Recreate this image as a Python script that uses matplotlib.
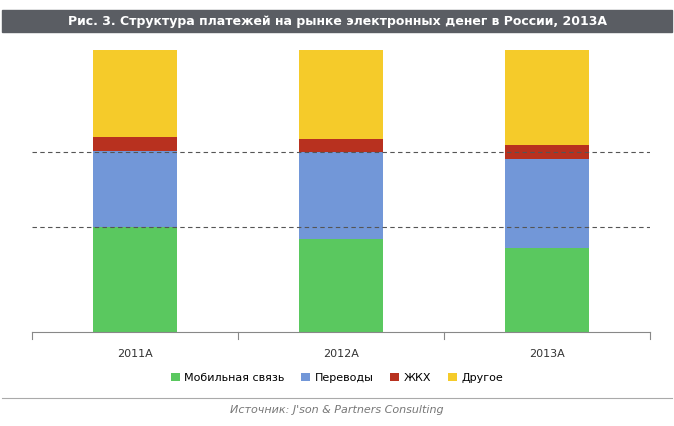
import matplotlib
matplotlib.use("Agg")
import matplotlib.pyplot as plt
import numpy as np

years = ["2011A", "2012A", "2013A"]
mobile = [37.2, 33.0, 29.8]
transfers = [27.0, 30.8, 31.6]
zhkh = [5.0, 4.6, 5.0]
other = [30.8, 31.6, 33.6]
series_names = ["Мобильная связь", "Переводы", "ЖКХ", "Другое"]
colors = ["#5ac85f", "#7297d8", "#b8311f", "#f5cb2a"]

fig = plt.figure(figsize=(6.74, 4.26), dpi=100)
fig.patches.append(plt.Rectangle((0.003, 1-32/426), 0.994, 22/426, transform=fig.transFigure,
                                 color="#5a5d63", zorder=0))
fig.text(0.5, 1-21/426, "Рис. 3. Структура платежей на рынке электронных денег в России, 2013А",
         ha="center", va="center", color="white", fontsize=9, fontweight="bold")

ax = fig.add_axes([32/674, (426-332)/426, 618/674, 282/426])
x = np.arange(len(years))
bottom = np.zeros(3)
for vals, c, n in zip([mobile, transfers, zhkh, other], colors, series_names):
    ax.bar(x, vals, 0.41, bottom=bottom, color=c, label=n, zorder=2)
    bottom += np.array(vals)
ax.set_xlim(-0.5, 2.5)
ax.set_ylim(0, 100)
for g in [37.2, 63.8]:
    ax.axhline(g, color="#555555", ls=(0, (4, 3)), lw=0.8, zorder=3)
for s in ["top", "right", "left"]:
    ax.spines[s].set_visible(False)
ax.spines["bottom"].set_color("#888888")
ax.set_yticks([])
ax.set_xticks(x)
ax.set_xticklabels(years, fontsize=8, color="#333333")
ax.tick_params(axis="x", length=0, pad=12)
for b in [-0.5, 0.5, 1.5, 2.5]:
    ax.plot([b, b], [0, -2.5], color="#888888", lw=0.8, clip_on=False)

fig.legend(loc="center", bbox_to_anchor=(0.5, 1-378/426), ncol=4, frameon=False,
           fontsize=8, handlelength=0.8, handleheight=0.8, columnspacing=1.5, handletextpad=0.4)
fig.add_artist(plt.Line2D([0.003, 0.997], [1-398/426]*2, color="#aaaaaa", lw=0.8))
fig.text(0.5, 1-410/426, "Источник: J'son & Partners Consulting", ha="center", va="center",
         fontsize=8, style="italic", color="#777777")
fig.savefig("out.png", dpi=100)
